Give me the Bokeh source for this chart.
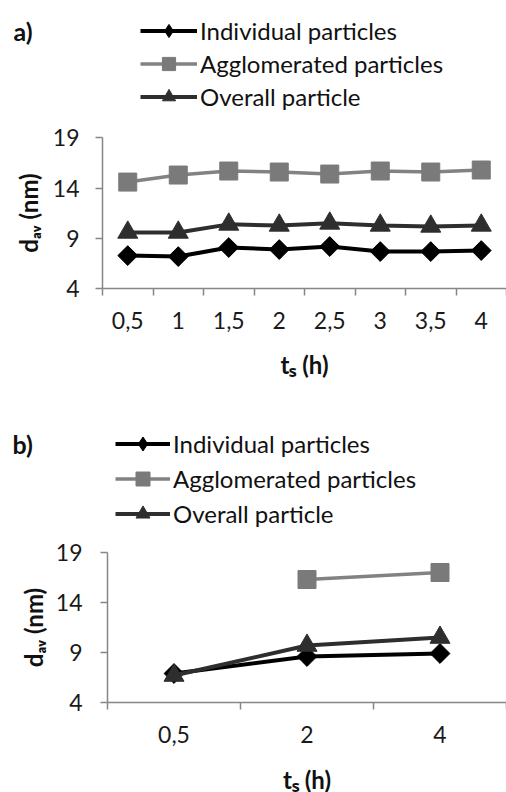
import math
import numpy as np
from bokeh.plotting import figure
from bokeh.models import (Range1d, LinearAxis, FixedTicker, Legend,
                          LegendItem, Label)
from bokeh.layouts import column
from bokeh.embed import file_html
from bokeh.resources import INLINE

# ---------------- data ----------------
series_names = ["Individual particles", "Agglomerated particles", "Overall particle"]
y_ticks = [4, 9, 14, 19]

# panel a)
times_a = ["0,5", "1", "1,5", "2", "2,5", "3", "3,5", "4"]
individual_a = [7.3, 7.2, 8.1, 7.9, 8.2, 7.7, 7.7, 7.8]
agglomerated_a = [14.6, 15.3, 15.7, 15.6, 15.4, 15.7, 15.6, 15.8]
overall_a = [9.6, 9.6, 10.4, 10.3, 10.5, 10.3, 10.2, 10.3]

# panel b)
times_b = ["0,5", "2", "4"]
individual_b = [6.9, 8.6, 8.9]
agglomerated_b = [float("nan"), 16.3, 17.0]
overall_b = [6.7, 9.7, 10.5]

FONT = "Lato"
AXIS_GRAY = "#868686"
COL_IND = "#000000"
COL_AGG = "#828282"
COL_AGG_FILL = "#7a7a7a"
COL_OVR = "#2e2e2e"
W = 506


def build(cats, ind, agg, ovr, height, ax_left, ax_top, ax_bottom,
          leg_left, leg_top, stride, glyph_w, tag, tag_x, tag_y,
          ystand, ylab_stand, xlab_stand):
    """ax_left / ax_top / ax_bottom: pixel position (inside this figure) of the
    y axis, of the value 19 and of the value 4."""
    n = len(cats)
    y_lo, y_hi = y_ticks[0], y_ticks[-1]
    ppu_y = (ax_bottom - ax_top) / (y_hi - y_lo)
    ppu_x = (W - ax_left) / n
    x_range = Range1d(-ax_left / ppu_x, n)
    y_range = Range1d(y_lo - (height - ax_bottom) / ppu_y, y_lo + ax_bottom / ppu_y)

    p = figure(width=W, height=height, x_range=x_range, y_range=y_range,
               x_axis_location=None, y_axis_location=None,
               output_backend="svg", toolbar_location=None,
               min_border_left=0, min_border_top=0,
               min_border_bottom=0, min_border_right=0)
    p.outline_line_color = None
    p.grid.visible = False
    p.background_fill_color = "white"
    p.border_fill_color = "white"

    # y axis
    yax = LinearAxis(ticker=FixedTicker(ticks=y_ticks, minor_ticks=[]),
                     axis_label="dₐᵥ (nm)", fixed_location=0,
                     bounds=(y_lo, y_hi))
    yax.axis_line_color = AXIS_GRAY
    yax.axis_line_width = 1.5
    yax.major_tick_line_color = AXIS_GRAY
    yax.major_tick_line_width = 1.5
    yax.major_tick_out = 7
    yax.major_tick_in = 0
    yax.minor_tick_line_color = None
    yax.major_label_standoff = ystand
    yax.major_label_text_font = FONT
    yax.major_label_text_font_size = "23px"
    yax.major_label_text_color = "#1a1a1a"
    yax.axis_label_text_font = FONT
    yax.axis_label_text_font_style = "bold"
    yax.axis_label_text_font_size = "24px"
    yax.axis_label_text_color = "#111111"
    yax.axis_label_standoff = ylab_stand
    p.add_layout(yax, "left")

    # x axis: one slot per time; labels at slot centres, tick marks between slots
    centres = [i + 0.5 for i in range(n)]
    xax = LinearAxis(ticker=FixedTicker(ticks=centres,
                                        minor_ticks=list(range(n + 1))),
                     major_label_overrides={c: lab for c, lab in zip(centres, cats)},
                     axis_label="tₛ (h)", fixed_location=y_lo, bounds=(0, n))
    xax.axis_line_color = AXIS_GRAY
    xax.axis_line_width = 1.5
    xax.major_tick_out = 0
    xax.major_tick_in = 0
    xax.major_tick_line_color = None
    xax.minor_tick_line_color = AXIS_GRAY
    xax.minor_tick_line_width = 1.5
    xax.minor_tick_out = 7
    xax.minor_tick_in = 0
    xax.major_label_standoff = 16
    xax.major_label_text_font = FONT
    xax.major_label_text_font_size = "23px"
    xax.major_label_text_color = "#1a1a1a"
    xax.axis_label_text_font = FONT
    xax.axis_label_text_font_style = "bold"
    xax.axis_label_text_font_size = "24px"
    xax.axis_label_text_color = "#111111"
    xax.axis_label_standoff = xlab_stand
    p.add_layout(xax, "below")

    xs = np.array(centres)
    ind = np.array(ind, dtype=float)
    agg = np.array(agg, dtype=float)
    ovr = np.array(ovr, dtype=float)

    l1 = p.line(x=xs, y=ind, line_color=COL_IND, line_width=4)
    m1k = p.scatter(x=xs, y=ind, marker="diamond", size=18,
                    fill_color=COL_IND, line_color=COL_IND)
    p.scatter(x=xs, y=ind, marker="square", angle=math.pi / 4, size=14,
              fill_color=COL_IND, line_color=COL_IND)
    l2 = p.line(x=xs, y=agg, line_color=COL_AGG, line_width=3.5)
    m2 = p.scatter(x=xs, y=agg, marker="square", size=18,
                   fill_color=COL_AGG_FILL, line_color=COL_AGG_FILL)
    l3 = p.line(x=xs, y=ovr, line_color=COL_OVR, line_width=4)
    m3 = p.scatter(x=xs, y=ovr, marker="triangle", size=20,
                   fill_color=COL_OVR, line_color=COL_OVR)

    leg_h = 3 * stride
    legend = Legend(items=[LegendItem(label=series_names[0], renderers=[l1, m1k]),
                           LegendItem(label=series_names[1], renderers=[l2, m2]),
                           LegendItem(label=series_names[2], renderers=[l3, m3])],
                    location=(leg_left, height - leg_top - leg_h),
                    orientation="vertical",
                    padding=0, margin=0, spacing=0,
                    glyph_width=glyph_w, glyph_height=stride,
                    label_height=stride, label_standoff=3,
                    label_text_font=FONT, label_text_font_size="24px",
                    label_text_color="#111111",
                    border_line_color=None, background_fill_alpha=0)
    p.add_layout(legend, "center")

    p.add_layout(Label(x=tag_x, y=height - tag_y, x_units="screen", y_units="screen",
                       text=tag, text_font=FONT, text_font_style="bold",
                       text_font_size="25px", text_baseline="middle",
                       text_color="#111111"))
    return p


# positions below are pixels inside each figure
pa = build(times_a, individual_a, agglomerated_a, overall_a,
           height=400, ax_left=102, ax_top=137.3, ax_bottom=288.3,
           leg_left=140, leg_top=13.5, stride=33, glyph_w=57,
           tag="a)", tag_x=13, tag_y=30, ystand=16, ylab_stand=7, xlab_stand=18)

pb = build(times_b, individual_b, agglomerated_b, overall_b,
           height=392, ax_left=107, ax_top=152, ax_bottom=302,
           leg_left=115, leg_top=25.5, stride=35, glyph_w=55,
           tag="b)", tag_x=12, tag_y=43, ystand=18, ylab_stand=5, xlab_stand=19)

layout = column(pa, pb, spacing=0)
open("out.html", "w").write(file_html(layout, INLINE))
